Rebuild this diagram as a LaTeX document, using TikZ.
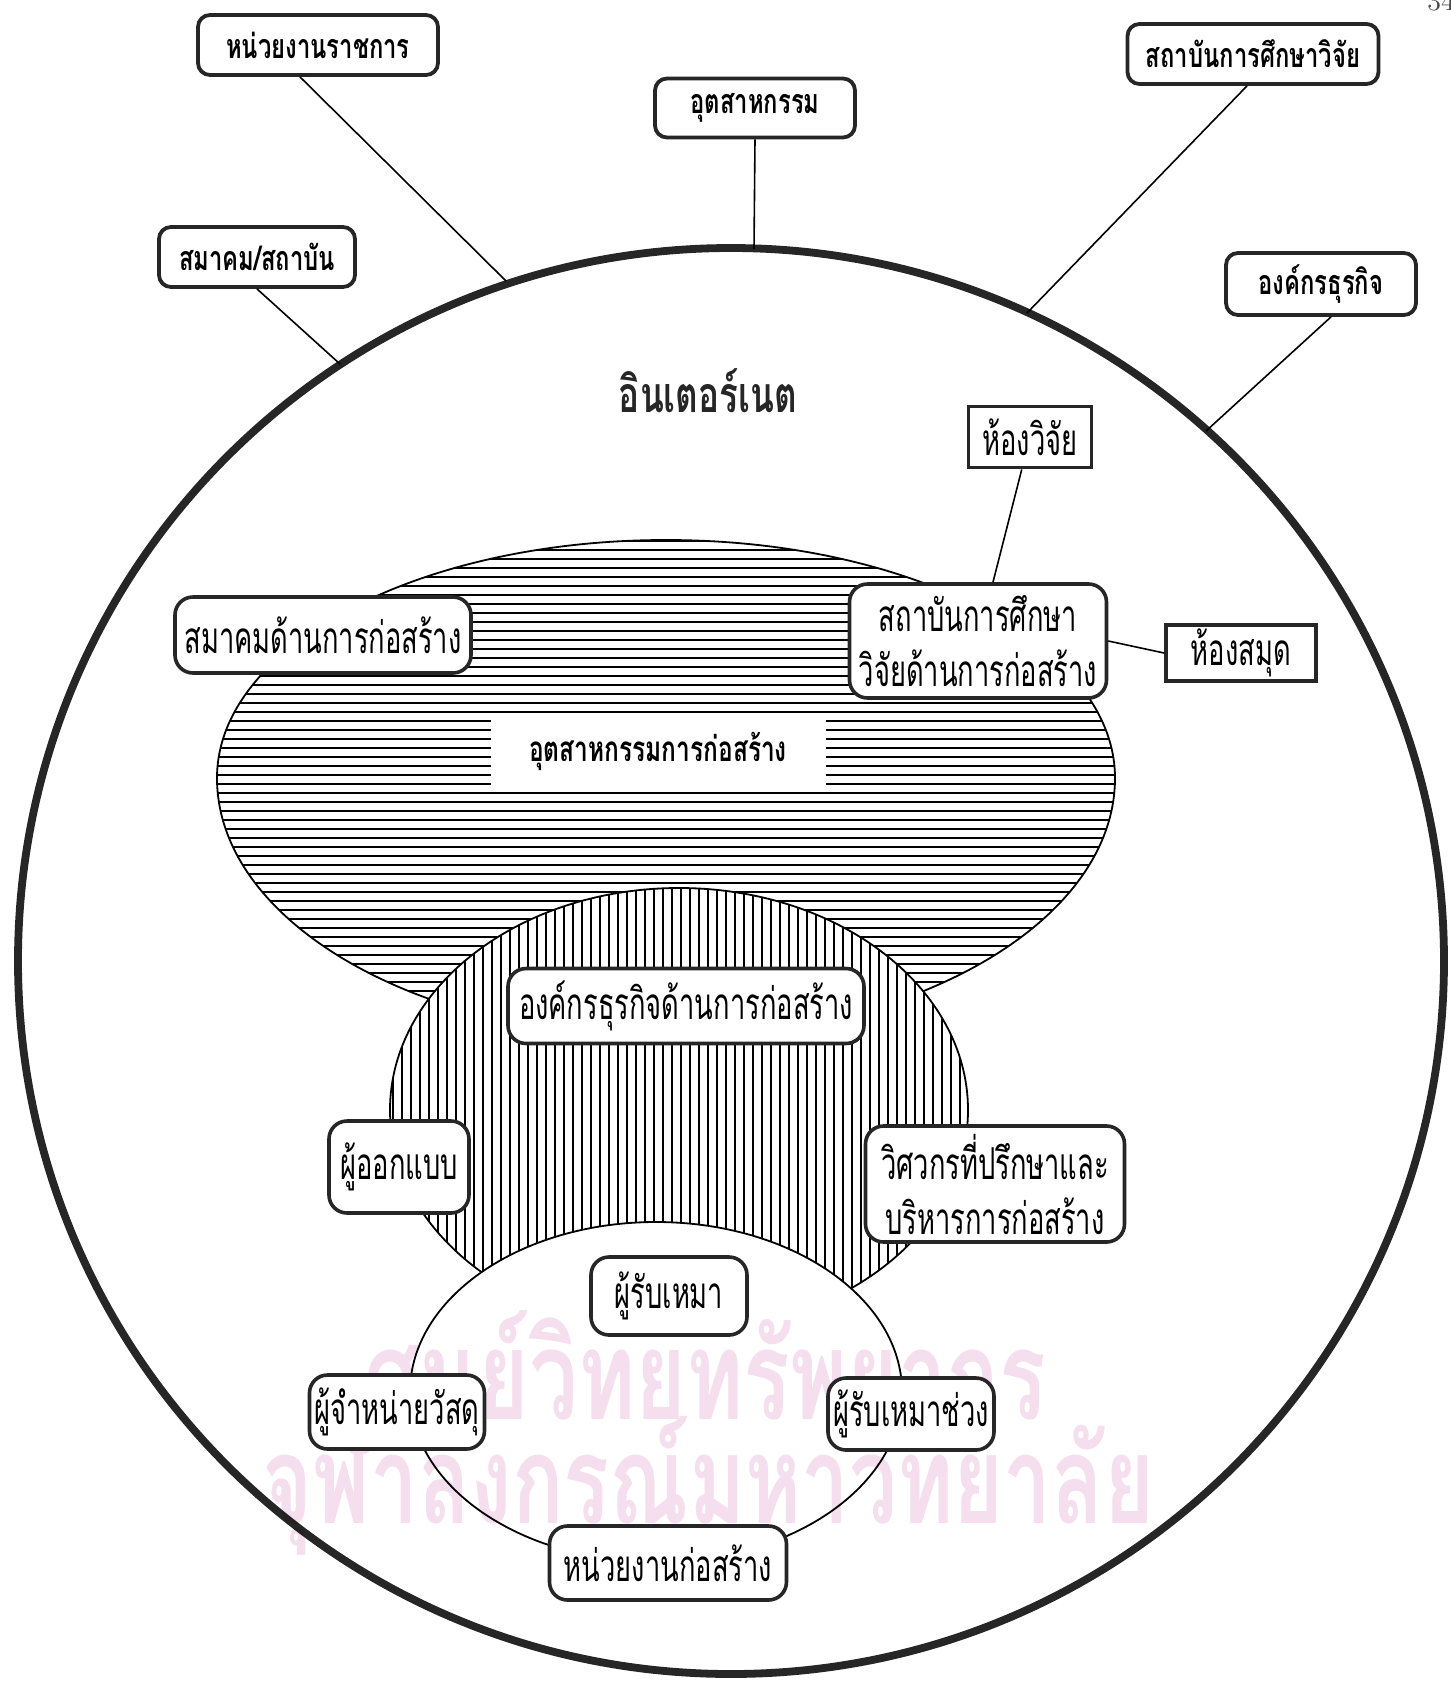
\documentclass[tikz,border=0pt]{standalone}
\usepackage{fontspec}
\newfontfamily\thaifont[Script=Thai,FakeStretch=0.7]{Loma}
\newfontfamily\thainarrow[Script=Thai,FakeStretch=0.62]{Loma}
\usetikzlibrary{calc}
\usetikzlibrary{positioning}

\definecolor{wmpink}{RGB}{245,222,237}
\newcommand{\indshape}{(217,778) arc[start angle=180,end angle=360,x radius=449,y radius=238] arc[start angle=0,end angle=180,x radius=449,y radius=260] -- cycle}
\newcommand{\bizshape}{(679,1110) ellipse [x radius=289,y radius=222]}
\newcommand{\siteshape}{(656,1392) ellipse [x radius=246,y radius=170]}

\begin{document}
\begin{tikzpicture}[
		x=0.5pt, y=-0.5pt,
		outerbox/.style={draw=black!85,line width=1.9pt,rounded corners=6pt,fill=white,inner sep=2pt,
			font=\thaifont\bfseries\fontsize{17}{20}\selectfont},
		innerbox/.style={draw=black!85,line width=1.8pt,rounded corners=9pt,fill=white,inner sep=2pt,align=center,
			font=\thainarrow\fontsize{22}{27.5}\selectfont},
		roombox/.style={draw=black!85,line width=1.9pt,fill=white,inner sep=2pt,
			font=\thainarrow\fontsize{22}{26}\selectfont},
		hatchline/.style={line width=0.95pt},
		link/.style={line width=0.8pt}
		]
		\fill[white] (0,0) rectangle (1451,1682);
		\useasboundingbox (0,0) rectangle (1451,1682);
		\node[anchor=base west,inner sep=0pt,font=\fontsize{14}{14}\selectfont,text=black!70] (pnum) at (1427,10) {34};

		\draw[black!85,line width=3.9pt] (731,961) circle [radius=713];

		\fill[white] \indshape;
		\begin{scope}
			\clip \indshape;
			\foreach \y in {541,550,...,1040} \draw[hatchline] (200,\y) -- (1130,\y);
		\end{scope}
		\draw[line width=0.9pt] \indshape;

		\fill[white] \bizshape;
		\begin{scope}
			\clip \bizshape;
			\foreach \x in {393,402,...,970} \draw[hatchline] (\x,880) -- (\x,1340);
		\end{scope}
		\draw[line width=0.9pt] \bizshape;

		\filldraw[fill=white,line width=0.9pt] \siteshape;

		\begin{scope}[blend mode=multiply]
			\node[text=wmpink,font=\thaifont\bfseries\fontsize{62}{62}\selectfont] (wmtop) at (705,1380) {ศูนย์วิทยทรัพยากร};
			\node[text=wmpink,font=\thaifont\bfseries\fontsize{61}{61}\selectfont] (wmbot) at (708,1486) {จุฬาลงกรณ์มหาวิทยาลัย};
		\end{scope}

		\coordinate (govin) at (506,281);
		\coordinate (indin) at (754,249);
		\coordinate (eduin) at (1027,313);
		\coordinate (associn) at (340,364);
		\coordinate (bizin) at (1206,431);

		\node[outerbox,minimum width=120pt,minimum height=30pt] (gov) at (318,45) {หน่วยงานราชการ};
		\node[outerbox,minimum width=100pt,minimum height=29.5pt] (ind) at (755,108) {อุตสาหกรรม};
		\node[outerbox,minimum width=125.5pt,minimum height=30pt] (edu) at (1253,54) {สถาบันการศึกษาวิจัย};
		\node[outerbox,minimum width=98pt,minimum height=30pt] (assoc) at (257,257) {สมาคม/สถาบัน};
		\node[outerbox,minimum width=95pt,minimum height=31pt] (biz) at (1321,284) {องค์กรธุรกิจ};

		\node[font=\thaifont\bfseries\fontsize{25}{28}\selectfont,text=black!85] (net) at (708,391) {อินเตอร์เนต};

		\node[roombox,minimum width=61.5pt,minimum height=30.5pt] (lab) at (1030,437) {ห้องวิจัย};
		\node[innerbox,minimum width=128.5pt,minimum height=57pt] (inst) at (978,641) {สถาบันการศึกษา\\วิจัยด้านการก่อสร้าง};
		\node[roombox,minimum width=75pt,minimum height=27pt] (lib) at (1241,653) {ห้องสมุด};
		\node[innerbox,minimum width=148pt,minimum height=38pt] (cassoc) at (323,635) {สมาคมด้านการก่อสร้าง};
		\node[fill=white,minimum width=167.5pt,minimum height=37.5pt,
			font=\thaifont\bfseries\fontsize{17.5}{20}\selectfont] (cind) at (658,751) {อุตสาหกรรมการก่อสร้าง};

		\node[innerbox,minimum width=178pt,minimum height=37.5pt] (cbiz) at (686,1006) {องค์กรธุรกิจด้านการก่อสร้าง};
		\node[innerbox,minimum width=70pt,minimum height=46pt] (design) at (399,1167) {\raisebox{5pt}{ผู้ออกแบบ}};
		\node[innerbox,minimum width=129.5pt,minimum height=58pt] (eng) at (995,1184) {วิศวกรที่ปรึกษาและ\\บริหารการก่อสร้าง};
		\node[innerbox,minimum width=78pt,minimum height=39pt] (contr) at (669,1296) {ผู้รับเหมา};
		\node[innerbox,minimum width=87.5pt,minimum height=37pt] (supply) at (397,1412) {ผู้จำหน่ายวัสดุ};
		\node[innerbox,minimum width=83pt,minimum height=36pt] (subc) at (911,1414) {ผู้รับเหมาช่วง};
		\node[innerbox,minimum width=118.5pt,minimum height=37pt] (site) at (668,1563) {หน่วยงานก่อสร้าง};

		\draw[link] ([xshift=-9pt]gov.south) -- (govin);
		\draw[link] (ind.south) -- (indin);
		\draw[link] ([xshift=-3pt]edu.south) -- (eduin);
		\draw[link] (assoc.south) -- (associn);
		\draw[link] ([xshift=5pt]biz.south) -- (bizin);
		\draw[link] (lab) -- (inst);
		\draw[link] (inst.east) -- (lib.west);
	\end{tikzpicture}
\end{document}
